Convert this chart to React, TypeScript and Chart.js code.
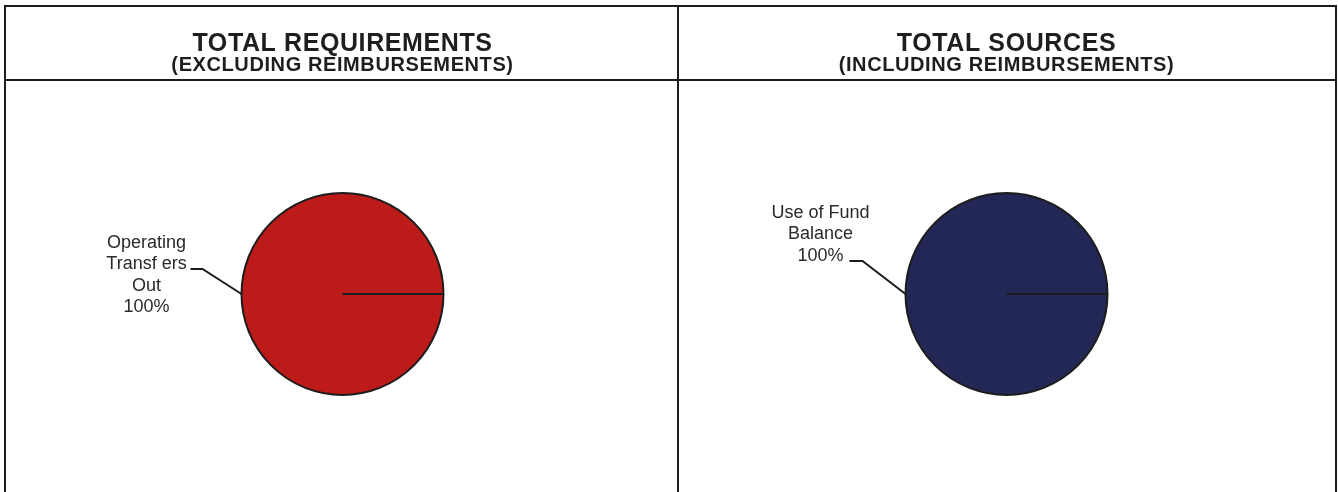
import React, { useEffect, useRef } from "react";
import { Chart, registerables } from "chart.js";

Chart.register(...registerables);

// ---- data ----
const requirementCategories = ["Operating Transf ers Out"];
const requirementLabelLines = [["Operating", "Transf ers", "Out"]];
const requirementValues = [100];

const sourceCategories = ["Use of Fund Balance"];
const sourceLabelLines = [["Use of Fund", "Balance"]];
const sourceValues = [100];

const panelTitles = ["TOTAL REQUIREMENTS", "TOTAL SOURCES"];
const panelSubtitles = ["(EXCLUDING REIMBURSEMENTS)", "(INCLUDING REIMBURSEMENTS)"];

const FONT = "'Liberation Sans', Arial, Helvetica, sans-serif";
const LINE = "#1c1c1c";

// slightly widen the heading text (the headings are drawn by the title/subtitle plugins)
const headingSpacingPlugin = {
  id: "headingSpacing",
  beforeDraw(chart: any) {
    (chart.ctx as any).letterSpacing = "0.6px";
  },
  beforeDatasetsDraw(chart: any) {
    (chart.ctx as any).letterSpacing = "0px";
  },
};

const leaderLabelPlugin = {
  id: "leaderLabels",
  afterDatasetsDraw(chart: any, _args: any, opts: any) {
    const meta = chart.getDatasetMeta(0);
    const ds: any = chart.data.datasets[0];
    const data: number[] = ds.data;
    const total = data.reduce((a, b) => a + b, 0);
    const ctx = chart.ctx;
    meta.data.forEach((arc: any, i: number) => {
      const { x, y, startAngle, endAngle, outerRadius } = arc.getProps(
        ["x", "y", "startAngle", "endAngle", "outerRadius"],
        true
      );
      const mid = (startAngle + endAngle) / 2;
      const ax = x + Math.cos(mid) * outerRadius;
      const ay = y + Math.sin(mid) * outerRadius;
      const ex = ax + opts.elbowDx;
      const ey = ay + opts.elbowDy;
      ctx.save();
      (ctx as any).letterSpacing = "0px";
      ctx.strokeStyle = LINE;
      ctx.lineWidth = opts.lineWidth;
      ctx.beginPath();
      ctx.moveTo(ex - opts.segLen, ey);
      ctx.lineTo(ex, ey);
      ctx.lineTo(ax, ay);
      ctx.stroke();
      const lines = [...ds.labelLines[i], Math.round((data[i] / total) * 100) + "%"];
      ctx.font = `${opts.fontSize}px ${FONT}`;
      ctx.fillStyle = "#2a2a2a";
      ctx.textAlign = "center";
      ctx.textBaseline = "middle";
      lines.forEach((t: string, k: number) => {
        ctx.fillText(t, ax + opts.textDx, ay + opts.textDy + k * opts.lineHeight);
      });
      ctx.restore();
    });
  },
};

type PanelProps = {
  labels: string[];
  lines: string[][];
  values: number[];
  color: string;
  title: string;
  subtitle: string;
  left: number;
  width: number;
  padL: number;
  padR: number;
  leader: any;
};

function PiePanel(p: PanelProps) {
  const ref = useRef<HTMLCanvasElement>(null);
  useEffect(() => {
    const chart = new Chart(ref.current as HTMLCanvasElement, {
      type: "pie",
      data: {
        labels: p.labels,
        datasets: [
          {
            data: p.values,
            labelLines: p.lines,
            backgroundColor: [p.color],
            borderColor: LINE,
            borderWidth: 2,
            hoverBorderWidth: 2,
          } as any,
        ],
      },
      options: {
        responsive: false,
        animation: false,
        events: [],
        rotation: 90,
        layout: { padding: { left: p.padL, right: p.padR, top: 0, bottom: 96 } },
        plugins: {
          legend: { display: false },
          tooltip: { enabled: false },
          title: {
            display: true,
            text: p.title,
            color: "#1e1e1e",
            font: { family: FONT, size: 25, weight: "bold", lineHeight: 0.9 },
            padding: { top: 25.55, bottom: 0 },
          },
          subtitle: {
            display: true,
            text: p.subtitle,
            color: "#1e1e1e",
            font: { family: FONT, size: 20, weight: "bold", lineHeight: 1 },
            padding: { top: 0.25, bottom: 116.7 },
          },
          leaderLabels: p.leader,
        } as any,
      },
      plugins: [headingSpacingPlugin, leaderLabelPlugin],
    });
    return () => chart.destroy();
  }, []);
  return (
    <canvas
      ref={ref}
      width={p.width}
      height={485}
      style={{ position: "absolute", left: p.left, top: 7, display: "block" }}
    />
  );
}

const lineStyle = (l: number, t: number, w: number, h: number): React.CSSProperties => ({
  position: "absolute",
  left: l,
  top: t,
  width: w,
  height: h,
  background: LINE,
});

export default function App() {
  return (
    <div
      style={{
        position: "fixed",
        left: 0,
        top: 0,
        width: 1338,
        height: 492,
        overflow: "hidden",
        background: "#ffffff",
      }}
    >
      <PiePanel
        labels={requirementCategories}
        lines={requirementLabelLines}
        values={requirementValues}
        color="#bd1a1a"
        title={panelTitles[0]}
        subtitle={panelSubtitles[0]}
        left={6}
        width={671}
        padL={2}
        padR={0}
        leader={{
          elbowDx: -39,
          elbowDy: -25,
          segLen: 12,
          textDx: -95,
          textDy: -51,
          lineHeight: 21.3,
          fontSize: 18,
          lineWidth: 2,
        }}
      />
      <PiePanel
        labels={sourceCategories}
        lines={sourceLabelLines}
        values={sourceValues}
        color="#232755"
        title={panelTitles[1]}
        subtitle={panelSubtitles[1]}
        left={679}
        width={656}
        padL={0}
        padR={1}
        leader={{
          elbowDx: -43,
          elbowDy: -33,
          segLen: 13,
          textDx: -85,
          textDy: -81,
          lineHeight: 21.5,
          fontSize: 18,
          lineWidth: 2,
        }}
      />
      <div style={lineStyle(4, 5, 1333, 2)} />
      <div style={lineStyle(4, 5, 2, 500)} />
      <div style={lineStyle(677, 5, 2, 500)} />
      <div style={lineStyle(1335, 5, 2, 500)} />
      <div style={lineStyle(4, 79, 1333, 2)} />
    </div>
  );
}
